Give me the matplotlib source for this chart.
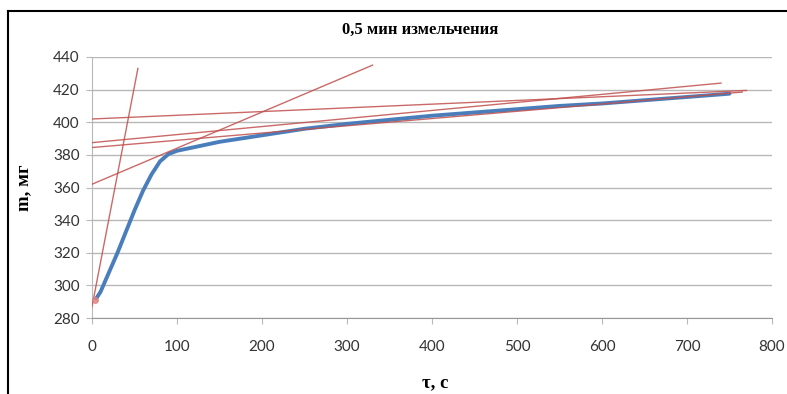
import numpy as np
import matplotlib.pyplot as plt
from matplotlib.lines import Line2D

# measured curve: time, s -> mass, mg
tau = [5, 10, 20, 30, 40, 50, 60, 70, 80, 90, 100, 150, 200, 250, 300,
       350, 400, 450, 500, 550, 600, 650, 700, 750]
mass = [292, 296, 308, 320, 333, 346, 358, 368, 376, 380.5, 382.5, 388,
        392, 396, 399, 401.5, 404, 406, 408, 410, 411.5, 413.5, 415.5, 417.5]

# tangent lines drawn by hand: (x0, y0, x1, y1)
tangents = [
    (0, 287, 54, 433),
    (0, 362, 330, 435),
    (0, 402, 770, 419.5),
    (0, 387.5, 740, 424),
    (0, 384.5, 765, 418.5),
]

title = '0,5 мин измельчения'
xlabel = 'τ, с'
ylabel = 'm, мг'

fig = plt.figure(figsize=(7.87, 3.94), dpi=100)
fig.set_facecolor('white')
ax = fig.add_axes([92 / 787, 1 - 318 / 394, 680 / 787, 261 / 394])

grid_c = '#b8b8b8'
ax.set_xlim(0, 800)
ax.set_ylim(280, 440)
ax.set_xticks(np.arange(0, 801, 100))
ax.set_yticks(np.arange(280, 441, 20))
ax.yaxis.grid(True, color=grid_c, linewidth=1)
ax.set_axisbelow(True)
for side in ['top', 'right']:
    ax.spines[side].set_visible(False)
ax.spines['left'].set_color(grid_c)
ax.spines['bottom'].set_color('#999999')
ax.tick_params(axis='both', colors=grid_c, length=4, labelcolor='#333333',
               labelsize=11)
ax.tick_params(axis='x', pad=12)
ax.tick_params(axis='y', pad=5)
for lab in ax.get_xticklabels() + ax.get_yticklabels():
    lab.set_family('Lato')

# curve
ax.plot(tau, mass, color='#4a7ebb', linewidth=2.8, solid_capstyle='round',
        zorder=3)

# tangents
for x0, y0, x1, y1 in tangents:
    ax.plot([x0, x1], [y0, y1], color='#c0504d', linewidth=1.0, alpha=0.85,
            zorder=4)
ax.plot([3], [291], 'o', color='#e08080', markersize=4, alpha=0.8, zorder=5)

# texts
fig.text(420 / 787, 1 - 30 / 394, title, ha='center', va='center',
         family='Liberation Serif', fontweight='bold', fontsize=12)
fig.text(435 / 787, 1 - 383 / 394, xlabel, ha='center', va='center',
         family='Liberation Serif', fontweight='bold', fontsize=13.5)
fig.text(24 / 787, 1 - 188 / 394, ylabel, ha='center', va='center',
         rotation=90, family='Liberation Serif', fontweight='bold',
         fontsize=13.5)

# outer frame (top and left only, as in the scan)
fig.add_artist(Line2D([8 / 787, 1], [1 - 11 / 394, 1 - 11 / 394],
                      color='black', linewidth=1.5))
fig.add_artist(Line2D([8 / 787, 8 / 787], [0, 1 - 11 / 394],
                      color='black', linewidth=1.5))

fig.savefig('out.png', dpi=100)
